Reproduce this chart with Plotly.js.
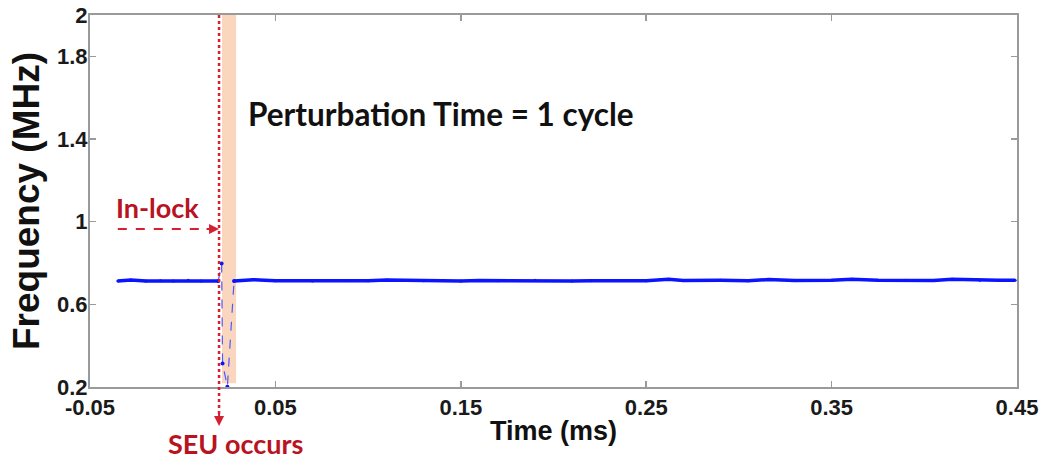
<!DOCTYPE html>
<html>
<head>
<meta charset="utf-8">
<script src="https://cdn.plot.ly/plotly-3.0.1.min.js"></script>
<style>html,body{margin:0;padding:0;background:#fff;}#chart{width:1051px;height:459px;}</style>
</head>
<body>
<div id="chart"></div>
<script>
// In-lock segment before the SEU
const preTime = [-0.035, -0.028, -0.02, -0.012, -0.005, 0.003, 0.01, 0.0192];
const preFreq = [0.713, 0.718, 0.713, 0.714, 0.713, 0.716, 0.713, 0.713];
// Transient caused by the SEU
const seuTime = [0.0192, 0.0210, 0.0215, 0.0241, 0.0277];
const seuFreq = [0.713, 0.798, 0.314, 0.201, 0.713];
// Recovered segment
const postTime = [0.0277, 0.038, 0.05, 0.07, 0.09, 0.1, 0.11, 0.13, 0.15, 0.16, 0.17, 0.19, 0.21, 0.22, 0.23, 0.25, 0.262, 0.27, 0.29, 0.305, 0.316, 0.33, 0.35, 0.361, 0.375, 0.39, 0.405, 0.415, 0.43, 0.44, 0.449];
const postFreq = [0.713, 0.719, 0.714, 0.713, 0.715, 0.714, 0.718, 0.714, 0.713, 0.715, 0.714, 0.716, 0.713, 0.714, 0.715, 0.714, 0.721, 0.715, 0.716, 0.714, 0.72, 0.715, 0.716, 0.721, 0.716, 0.717, 0.715, 0.721, 0.717, 0.716, 0.717];

const seuAt = 0.0196;
const perturbStart = 0.0212, perturbEnd = 0.0288;
const lockArrowStart = -0.035, lockLevel = 0.964;

const xTicks = [-0.05, 0.05, 0.15, 0.25, 0.35, 0.45];
const xTickText = ['-0.05', '0.05', '0.15', '0.25', '0.35', '0.45'];
const yTicks = [0.2, 0.6, 1, 1.4, 1.8, 2];
const yTickText = ['0.2', '0.6', '1', '1.4', '1.8', '2'];

const blue = '#0a14ff';
const red = '#d42030';
const darkRed = '#b8131f';
const sans = 'Liberation Sans, Arial, sans-serif';
const calibriLike = 'Lato, Open Sans, sans-serif';

const traces = [
  {x: preTime, y: preFreq, mode: 'lines+markers', line: {color: blue, width: 3.5}, marker: {size: 3, color: blue}, showlegend: false},
  {x: seuTime, y: seuFreq, mode: 'lines+markers', line: {color: '#4a5cff', width: 1.2, dash: 'dash'}, marker: {size: 4, color: blue}, showlegend: false},
  {x: postTime, y: postFreq, mode: 'lines+markers', line: {color: blue, width: 3.5}, marker: {size: 3, color: blue}, showlegend: false}
];

const axisCommon = {
  showline: true, linecolor: '#9a9a9a', linewidth: 2, mirror: 'ticks',
  ticks: 'inside', ticklen: 6, tickwidth: 1.5, tickcolor: '#9a9a9a',
  showgrid: false, zeroline: false,
  tickfont: {family: sans, size: 22, color: '#1a1a1a', weight: 'bold'}
};

const layout = {
  width: 1051, height: 459,
  margin: {l: 90, r: 34, t: 15, b: 72},
  paper_bgcolor: '#fff', plot_bgcolor: '#fff',
  xaxis: Object.assign({}, axisCommon, {
    range: [-0.05, 0.45], tickvals: xTicks, ticktext: xTickText,
    title: {text: 'Time (ms)', font: {family: sans, size: 27, color: '#111', weight: 'bold'}, standoff: 2}
  }),
  yaxis: Object.assign({}, axisCommon, {
    range: [0.2, 2], tickvals: yTicks, ticktext: yTickText, ticklabelstandoff: -4,
    title: {text: 'Frequency (MHz)', font: {family: sans, size: 37, color: '#111', weight: 'bold'}, standoff: 6}
  }),
  shapes: [
    {type: 'rect', xref: 'x', yref: 'paper', x0: perturbStart, x1: perturbEnd, y0: 0.01, y1: 1, fillcolor: 'rgba(248,200,168,0.75)', line: {width: 0}, layer: 'below'},
    {type: 'line', xref: 'x', yref: 'paper', x0: seuAt, x1: seuAt, y0: 1, y1: -0.085, line: {color: red, width: 2.5, dash: 'dot'}},
    {type: 'line', xref: 'x', yref: 'y', x0: lockArrowStart, x1: seuAt - 0.003, y0: lockLevel, y1: lockLevel, line: {color: red, width: 2, dash: 'dash'}}
  ],
  annotations: [
    {xref: 'x', yref: 'paper', x: seuAt, y: -0.105, ax: 0, ay: -14, text: '', showarrow: true, arrowhead: 2, arrowsize: 1, arrowwidth: 2, arrowcolor: red},
    {xref: 'x', yref: 'y', x: seuAt, y: lockLevel, ax: -14, ay: 0, text: '', showarrow: true, arrowhead: 2, arrowsize: 1, arrowwidth: 2, arrowcolor: red},
    {xref: 'x', yref: 'y', x: -0.0368, y: 1.07, xanchor: 'left', yanchor: 'middle', text: 'In-lock', showarrow: false, font: {family: calibriLike, size: 27, color: darkRed, weight: 'bold'}},
    {xref: 'x', yref: 'paper', x: 0.0283, y: -0.152, xanchor: 'center', yanchor: 'middle', text: 'SEU occurs', showarrow: false, font: {family: calibriLike, size: 27, color: darkRed, weight: 'bold'}},
    {xref: 'x', yref: 'y', x: 0.034, y: 1.52, xanchor: 'left', yanchor: 'middle', text: 'Perturbation Time = 1 cycle', showarrow: false, font: {family: calibriLike, size: 31.5, color: '#111', weight: 'bold'}}
  ]
};

Plotly.newPlot('chart', traces, layout, {displayModeBar: false, staticPlot: true});
</script>
</body>
</html>
